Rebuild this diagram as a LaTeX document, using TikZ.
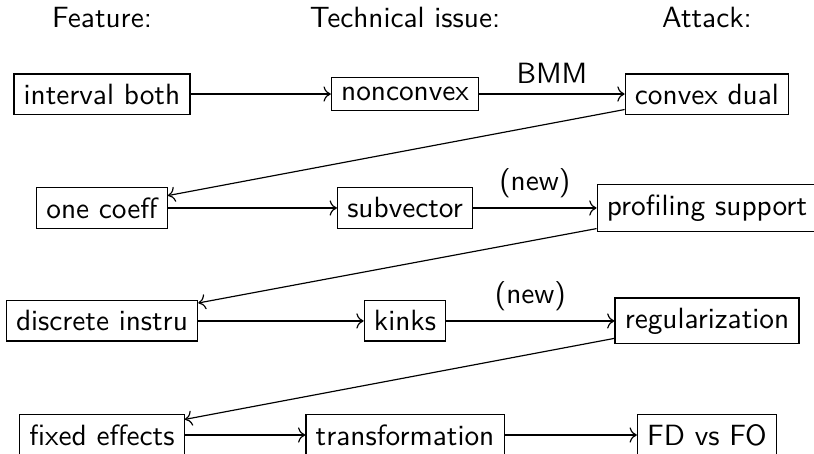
\documentclass[tikz,border=0pt]{standalone}
\usepackage{tikz}
\usetikzlibrary{arrows.meta}
\tikzset{
  cellbox/.style={draw=black,inner sep=0.3333em,font=\sffamily},
  heading/.style={font=\sffamily},
  flow/.style={-{Computer Modern Rightarrow},draw=black},
  note/.style={font=\sffamily}
}
\begin{document}
\begin{tikzpicture}[x=1cm,y=1cm]
  \useasboundingbox (0,0) rectangle (9.764,-5.434);
  \clip (0,0) rectangle (9.764,-5.434);
  \foreach \name/\txt/\x in {feat/Feature:/1.223,issue/Technical issue:/4.858,attack/Attack:/8.480}
    \node[heading] (\name) at (\x,-0.216) {\txt};
  \foreach \name/\txt/\x/\y in {
      interval/interval both/1.223/-1.128, nonconvex/nonconvex/4.858/-1.128, dual/convex dual/8.480/-1.128,
      coeff/one coeff/1.223/-2.495, subvector/subvector/4.858/-2.495, profiling/profiling support/8.480/-2.495,
      discrete/discrete instru/1.223/-3.850, kinks/kinks/4.858/-3.850, regular/regularization/8.480/-3.850,
      fixed/fixed effects/1.223/-5.218, transform/transformation/4.858/-5.218, fdfo/FD vs FO/8.480/-5.218}
    \node[cellbox] (\name) at (\x,\y) {\txt};
  \draw[flow] (interval) -- (nonconvex);
  \draw[flow] (nonconvex) -- node[above,note]{BMM} (dual);
  \draw[flow] (dual) -- (coeff);
  \draw[flow] (coeff) -- (subvector);
  \draw[flow] (subvector) -- node[above,note]{(new)} (profiling);
  \draw[flow] (profiling) -- (discrete);
  \draw[flow] (discrete) -- (kinks);
  \draw[flow] (kinks) -- node[above,note]{(new)} (regular);
  \draw[flow] (regular) -- (fixed);
  \draw[flow] (fixed) -- (transform);
  \draw[flow] (transform) -- (fdfo);
\end{tikzpicture}
\end{document}
